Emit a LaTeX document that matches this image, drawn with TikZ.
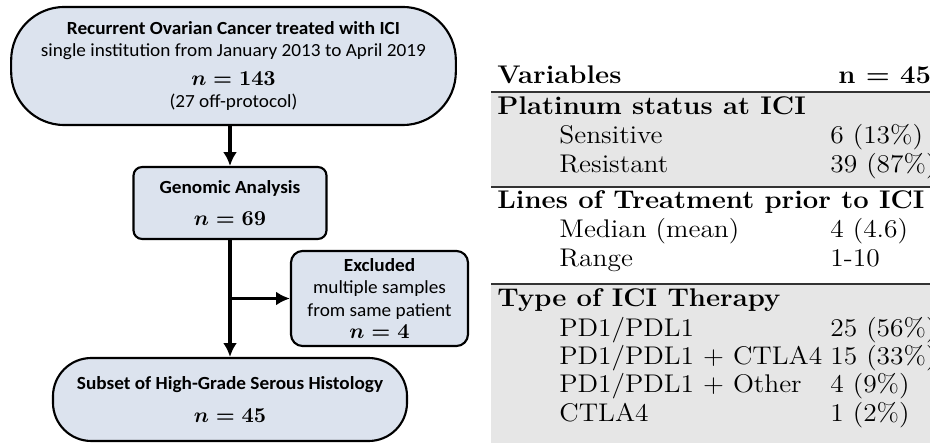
\documentclass[tikz,border=0pt]{standalone}
\usepackage{fontspec}
\usepackage{amsmath}
\usepackage{tikz}
\usetikzlibrary{arrows.meta}
\usetikzlibrary{positioning}
\newfontfamily\boxfont[FakeStretch=1.04]{Carlito}
\newfontfamily\tabfont[FakeStretch=1.075]{Latin Modern Roman}
\definecolor{boxblue}{HTML}{DCE3EE}
\definecolor{rowgray}{HTML}{E6E6E6}
\tikzset{
  flowbox/.style={draw=black, line width=1pt, fill=boxblue, align=center,
    font=\boxfont\fontsize{8.7}{10.4}\selectfont, inner sep=0pt},
  flowarrow/.style={-{Latex[length=6.5pt,width=6.5pt]}, line width=1.5pt},
  tabtext/.style={anchor=base west, inner sep=0pt, font=\tabfont\fontsize{12}{14}\selectfont},
  tabrule/.style={line width=0.5pt, color=black!80},
}

\begin{document}
\begin{tikzpicture}[x=0.47pt,y=-0.47pt]
\useasboundingbox (0,0) rectangle (930,443);

% flow chart
\node[flowbox, minimum width=209pt, minimum height=55.5pt, rounded corners=25pt] (study) at (233.5,66)
  {{\bfseries Recurrent Ovarian Cancer treated with ICI}\\
   single institution from January 2013 to April 2019\\[3pt]
   {\fontsize{9.7}{10}\selectfont\boldmath$n = 143$}\\
   (27 off-protocol)};

\node[flowbox, minimum width=90.7pt, minimum height=33.8pt, rounded corners=4pt] (genomic) at (230,203)
  {{\bfseries Genomic Analysis}\\[5pt]
   {\fontsize{9.7}{10}\selectfont\boldmath$n = 69$}};

\node[flowbox, minimum width=83.2pt, minimum height=44.7pt, rounded corners=5.5pt] (excluded) at (379.5,298.5)
  {{\bfseries Excluded}\\
   multiple samples\\
   from same patient\\
   {\fontsize{9.7}{10}\selectfont\boldmath$n = 4$}};

\node[flowbox, minimum width=166.4pt, minimum height=39pt, rounded corners=18pt] (subset) at (230,399.5)
  {{\bfseries Subset of High-Grade Serous Histology}\\[5pt]
   {\fontsize{9.7}{10}\selectfont\boldmath$n = 45$}};

\draw[flowarrow] (genomic.north |- study.south) -- (genomic.north);
\draw[flowarrow] (genomic.south) -- (subset.north);
\draw[flowarrow] (genomic.south |- excluded.west) -- (excluded.west);

% table
\fill[rowgray] (491,92) rectangle (935,187);
\fill[rowgray] (491,284) rectangle (935,443);
\draw[tabrule] (491,92) -- (935,92);
\draw[tabrule] (491,187) -- (935,187);
\draw[tabrule] (491,284) -- (935,284);

\node[tabtext] (varhead) at (497,84) {\bfseries Variables};
\node[tabtext] (nhead) at (838,84) {\bfseries n = 45};

\node[tabtext] (plat) at (497,115) {\bfseries Platinum status at ICI};
\node[tabtext] (sens) at (559,144) {Sensitive};
\node[tabtext] (sensval) at (830,144) {6 (13\%)};
\node[tabtext] (resis) at (559,173) {Resistant};
\node[tabtext] (resisval) at (830,173) {39 (87\%)};

\node[tabtext] (lines) at (497,209) {\bfseries Lines of Treatment prior to ICI};
\node[tabtext] (median) at (559,238) {Median (mean)};
\node[tabtext] (medianval) at (830,238) {4 (4.6)};
\node[tabtext] (range) at (559,267) {Range};
\node[tabtext] (rangeval) at (830,267) {1-10};

\node[tabtext] (type) at (497,307) {\bfseries Type of ICI Therapy};
\node[tabtext] (pd) at (559,337) {PD1/PDL1};
\node[tabtext] (pdval) at (830,337) {25 (56\%)};
\node[tabtext] (pdctla) at (559,365) {PD1/PDL1 + CTLA4};
\node[tabtext] (pdctlaval) at (830,365) {15 (33\%)};
\node[tabtext] (pdother) at (559,393) {PD1/PDL1 + Other};
\node[tabtext] (pdotherval) at (830,393) {4 (9\%)};
\node[tabtext] (ctla) at (559,422) {CTLA4};
\node[tabtext] (ctlaval) at (830,422) {1 (2\%)};

\end{tikzpicture}
\end{document}
